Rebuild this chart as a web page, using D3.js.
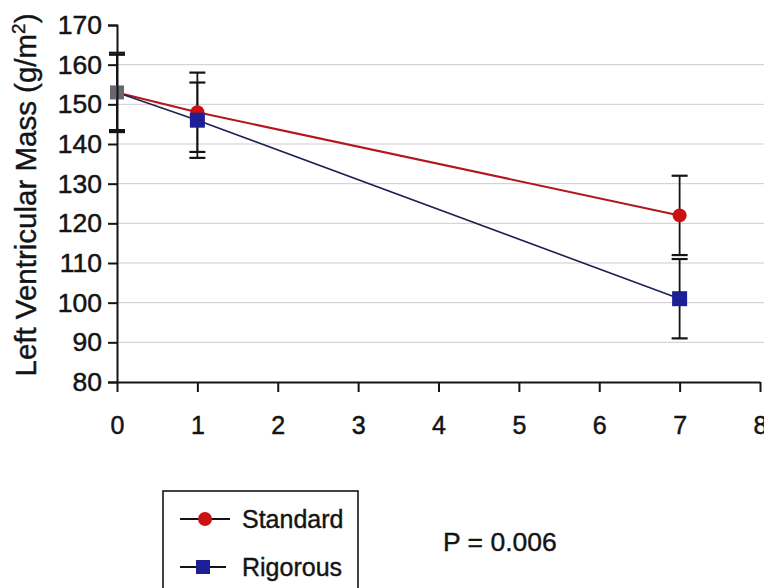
<!DOCTYPE html>
<html>
<head>
<meta charset="utf-8">
<script src="https://cdn.jsdelivr.net/npm/d3@7"></script>
<style>
  html, body { margin: 0; padding: 0; background: #fff; }
  svg { display: block; font-family: "Liberation Sans", Arial, sans-serif; }
</style>
</head>
<body>
<svg id="chart" width="764" height="588"></svg>
<script>
// ---- data ----
const days = [0, 1, 7];
const standardMean = [153, 148, 122];
const standardSD = [10, 10, 10];
const rigorousMean = [153, 146, 101];
const rigorousSD = [9.5, 9.5, 10];
const xTicks = [0, 1, 2, 3, 4, 5, 6, 7, 8];
const yTicks = [80, 90, 100, 110, 120, 130, 140, 150, 160, 170];
const gridValues = [90, 100, 110, 120, 130, 140, 150, 160];
const legendLabels = ["Standard", "Rigorous"];
const pText = "P = 0.006";

const svg = d3.select("#chart");
const x = d3.scaleLinear().domain([0, 8]).range([117, 760]);
const y = d3.scaleLinear().domain([80, 170]).range([382, 25]);

const redLine = "#b3161b", redMark = "#cc1111";
const blueLine = "#1d2150", blueMark = "#1e1e96";
const grayMark = "#6b6570";
const ink = "#141414";

// gridlines
svg.append("g").selectAll("line").data(gridValues).join("line")
  .attr("x1", x(0)).attr("x2", 764)
  .attr("y1", d => y(d)).attr("y2", d => y(d))
  .attr("stroke", "#d2c9cf").attr("stroke-width", 1);

const series = [
  { mean: standardMean, sd: standardSD, line: redLine, mark: redMark, shape: "circle" },
  { mean: rigorousMean, sd: rigorousSD, line: blueLine, mark: blueMark, shape: "square" }
];

// lines
const lineGen = d3.line().x((d, i) => x(days[i])).y(d => y(d));
series.forEach(s => {
  svg.append("path").datum(s.mean).attr("d", lineGen)
    .attr("fill", "none").attr("stroke", s.line).attr("stroke-width", s.shape === "circle" ? 2 : 1.6);
});

// error bars
series.forEach(s => {
  const g = svg.append("g");
  s.mean.forEach((m, i) => {
    const cx = x(days[i]);
    g.append("line").attr("x1", cx).attr("x2", cx)
      .attr("y1", y(m - s.sd[i])).attr("y2", y(m + s.sd[i]))
      .attr("stroke", ink).attr("stroke-width", 1.8);
    [m - s.sd[i], m + s.sd[i]].forEach(v => {
      g.append("line").attr("x1", cx - 8).attr("x2", cx + 8)
        .attr("y1", y(v)).attr("y2", y(v))
        .attr("stroke", ink).attr("stroke-width", 2.2);
    });
  });
});

// markers
series.forEach(s => {
  s.mean.forEach((m, i) => {
    const cx = x(days[i]), cy = y(m);
    if (i === 0) return;
    if (s.shape === "circle") {
      svg.append("circle").attr("cx", cx).attr("cy", cy).attr("r", 7).attr("fill", s.mark);
    } else {
      svg.append("rect").attr("x", cx - 7.5).attr("y", cy - 7.5)
        .attr("width", 15).attr("height", 15).attr("fill", s.mark);
    }
  });
});
// overlapping baseline marker
svg.append("rect").attr("x", x(days[0]) - 7).attr("y", y(rigorousMean[0]) - 7)
  .attr("width", 14).attr("height", 14).attr("fill", grayMark);

// axes
const yAxis = d3.axisLeft(y).tickValues(yTicks).tickSize(9).tickPadding(6);
const gy = svg.append("g").attr("transform", `translate(${x(0)},0)`).call(yAxis);
gy.select(".domain").attr("stroke", ink).attr("stroke-width", 2);
gy.selectAll(".tick line").attr("stroke", ink).attr("stroke-width", 2);
gy.selectAll(".tick text").attr("font-size", 26.5).attr("fill", ink)
  .attr("stroke", ink).attr("stroke-width", 0.5)
  .attr("font-family", "'Liberation Sans', Arial, sans-serif");

const xAxis = d3.axisBottom(x).tickValues(xTicks).tickSize(10).tickPadding(24).tickSizeOuter(0);
const gx = svg.append("g").attr("transform", `translate(0,${y(80)})`).call(xAxis);
gx.select(".domain").attr("stroke", ink).attr("stroke-width", 2.2);
gx.selectAll(".tick line").attr("stroke", ink).attr("stroke-width", 2);
gx.selectAll(".tick text").attr("font-size", 25).attr("fill", ink)
  .attr("stroke", ink).attr("stroke-width", 0.5)
  .attr("font-family", "'Liberation Sans', Arial, sans-serif");

// y title
const yt = svg.append("text")
  .attr("transform", "translate(36,195) rotate(-90)")
  .attr("text-anchor", "middle").attr("font-size", 29.5).attr("fill", ink)
  .attr("stroke", ink).attr("stroke-width", 0.4);
yt.append("tspan").text("Left Ventricular Mass (g/m");
yt.append("tspan").text("2").attr("font-size", 19).attr("dy", -11);
yt.append("tspan").text(")").attr("dy", 11);

// legend
svg.append("rect").attr("x", 163).attr("y", 491).attr("width", 195).attr("height", 120)
  .attr("fill", "none").attr("stroke", ink).attr("stroke-width", 1.6);
const legY = [519, 567];
legendLabels.forEach((lab, i) => {
  const s = series[i];
  svg.append("line").attr("x1", 180).attr("x2", i === 0 ? 230 : 226)
    .attr("y1", legY[i]).attr("y2", legY[i]).attr("stroke", ink).attr("stroke-width", 2);
  if (s.shape === "circle") {
    svg.append("circle").attr("cx", 205).attr("cy", legY[i]).attr("r", 7).attr("fill", s.mark);
  } else {
    svg.append("rect").attr("x", 196).attr("y", legY[i] - 7).attr("width", 14).attr("height", 14).attr("fill", s.mark);
  }
  svg.append("text").attr("x", 242).attr("y", legY[i] + 9).attr("font-size", 25)
    .attr("fill", ink).attr("stroke", ink).attr("stroke-width", 0.4).text(lab);
});

svg.append("text").attr("x", 443).attr("y", 551).attr("font-size", 26.5).attr("fill", ink)
  .attr("stroke", ink).attr("stroke-width", 0.4).text(pText);
</script>
</body>
</html>
